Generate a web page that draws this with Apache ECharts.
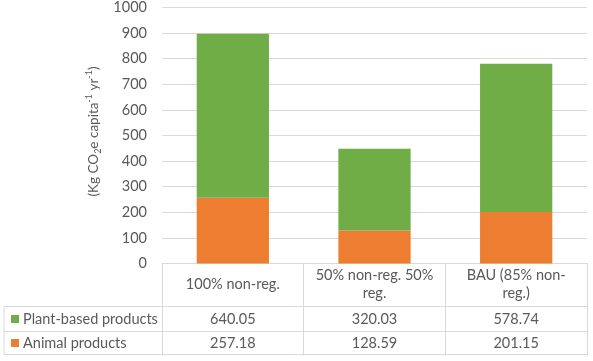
<!DOCTYPE html>
<html>
<head>
<meta charset="utf-8">
<script src="https://cdn.jsdelivr.net/npm/echarts@6/dist/echarts.min.js"></script>
<style>
  html, body { margin: 0; padding: 0; background: #fff; }
  #main { width: 593px; height: 361px; }
</style>
</head>
<body>
<div id="main"></div>
<script>
// data
var categories = ['100% non-reg.', '50% non-reg. 50% reg.', 'BAU (85% non-reg.)'];
var catLabels = ['100% non-reg.', '50% non-reg. 50%\nreg.', 'BAU (85% non-\nreg.)'];
var plantBased = [640.05, 320.03, 578.74];
var animal = [257.18, 128.59, 201.15];
var seriesNames = ['Plant-based products', 'Animal products'];
var yTicks = [0, 100, 200, 300, 400, 500, 600, 700, 800, 900, 1000];

var GREEN = '#70AD47';
var ORANGE = '#ED7D31';
var GRID = '#D9D9D9';
var TEXT = '#595959';
var FONT = 'Lato, "Open Sans", sans-serif';
var FS = 14.5;

var myChart = echarts.init(document.getElementById('main'));

var option = {
    animation: false,
    textStyle: { fontFamily: FONT, color: TEXT },
    grid: { left: 162, right: 6, top: 7.5, bottom: 97.5 },
    xAxis: {
        type: 'category',
        data: categories,
        axisLine: { lineStyle: { color: GRID, width: 1 } },
        axisTick: { show: true, interval: 0, length: 92, lineStyle: { color: GRID } },
        axisLabel: {
            interval: 0,
            margin: 21,
            verticalAlign: 'middle',
            fontSize: FS,
            lineHeight: 18,
            color: TEXT,
            fontFamily: FONT,
            formatter: function (v, i) { return catLabels[i]; }
        }
    },
    yAxis: {
        type: 'value',
        min: yTicks[0],
        max: yTicks[yTicks.length - 1],
        interval: 100,
        axisLine: { show: false },
        axisTick: { show: false },
        axisLabel: {
            margin: 15, fontSize: FS, color: TEXT, fontFamily: FONT,
            formatter: function (v) { return String(v); }
        },
        splitLine: { lineStyle: { color: GRID, width: 1 } },
        name: '{n|(Kg CO}{sub|2}{n|e capita}{sup|-1}{n| yr}{sup|-1}{n|)}',
        nameLocation: 'middle',
        nameGap: 54,
        nameTextStyle: {
            padding: [0, 0, 0, 8],
            rich: {
                n: { fontSize: 13.5, lineHeight: 18, color: TEXT, fontFamily: FONT },
                sub: { fontSize: 9, lineHeight: 10, verticalAlign: 'bottom', color: TEXT, fontFamily: FONT },
                sup: { fontSize: 9, lineHeight: 10, verticalAlign: 'top', color: TEXT, fontFamily: FONT }
            }
        }
    },
    series: [{
        name: seriesNames[1],
        type: 'bar',
        stack: 'total',
        barWidth: '51%',
        itemStyle: { color: ORANGE },
        data: animal
    }, {
        name: seriesNames[0],
        type: 'bar',
        stack: 'total',
        barWidth: '51%',
        itemStyle: { color: GREEN },
        data: plantBased
    }]
};

myChart.setOption(option);

// data table under the plot
var y0 = myChart.convertToPixel({ yAxisIndex: 0 }, 0);
var xRight = 587;
var xLeft = 4;
var rowTops = [y0 + 43, y0 + 68];
var rowBottom = y0 + 91;
var rows = [
    { name: seriesNames[0], color: GREEN, values: plantBased },
    { name: seriesNames[1], color: ORANGE, values: animal }
];
var lineStyle = { stroke: GRID, lineWidth: 1 };
var g = [];
rowTops.concat([rowBottom]).forEach(function (y) {
    g.push({ type: 'line', shape: { x1: xLeft, y1: y, x2: xRight, y2: y }, style: lineStyle, silent: true });
});
g.push({ type: 'line', shape: { x1: xLeft, y1: rowTops[0], x2: xLeft, y2: rowBottom }, style: lineStyle, silent: true });

rows.forEach(function (r, ri) {
    var top = rowTops[ri];
    var bottom = ri + 1 < rowTops.length ? rowTops[ri + 1] : rowBottom;
    var cy = (top + bottom) / 2;
    g.push({ type: 'rect', shape: { x: 11, y: cy - 4, width: 8, height: 8 }, style: { fill: r.color }, silent: true });
    g.push({
        type: 'text', x: 23, y: cy,
        style: { text: r.name, fill: TEXT, font: FS + 'px ' + FONT, textAlign: 'left', textVerticalAlign: 'middle' },
        silent: true
    });
    r.values.forEach(function (v, i) {
        var cx = myChart.convertToPixel({ xAxisIndex: 0 }, categories[i]);
        g.push({
            type: 'text', x: cx, y: cy,
            style: { text: v.toFixed(2), fill: TEXT, font: FS + 'px ' + FONT, textAlign: 'center', textVerticalAlign: 'middle' },
            silent: true
        });
    });
});

myChart.setOption({ graphic: g });
</script>
</body>
</html>
